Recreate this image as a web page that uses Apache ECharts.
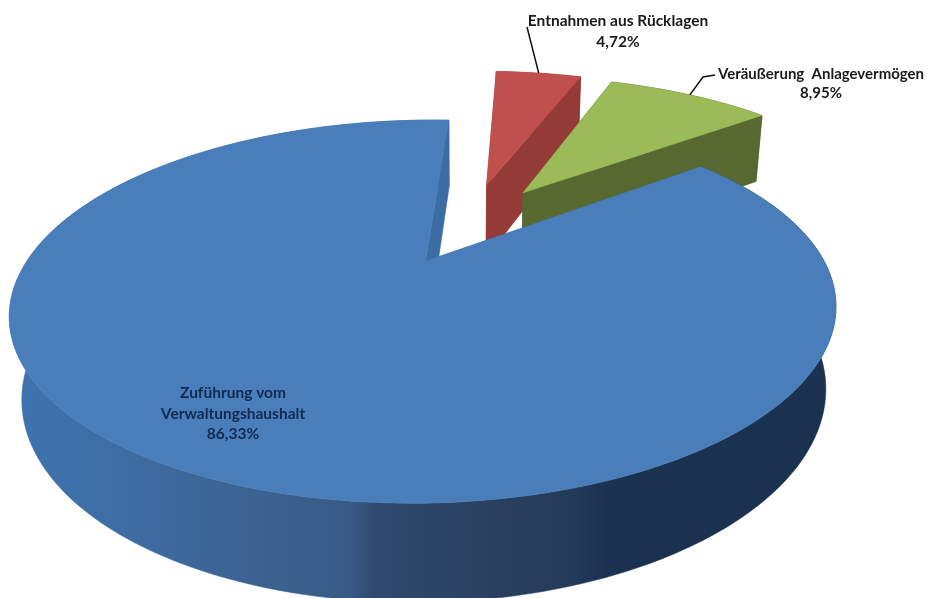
<!DOCTYPE html>
<html><head><meta charset="utf-8">
<style>html,body{margin:0;padding:0;background:#fff}#c{width:930px;height:598px}</style>
<script src="https://cdn.jsdelivr.net/npm/echarts@6/dist/echarts.min.js"></script>
</head><body><div id="c"></div>
<script>
const categories = ["Zuführung vom\nVerwaltungshaushalt", "Entnahmen aus Rücklagen", "Veräußerung  Anlagevermögen"];
const values = [86.33, 4.72, 8.95];
const startAngle = 52;

// perspective view of the tilted pie
const view = {cx:464, cy:229.5, k:380, m:162, p:0.251, r:0.025, h:79};
const explode = [0.21, 0.30, 0.291];
const explodeTurn = [0, 1, -1.4];
const topColors = ['#4a7ebb', '#c0504d', '#9bbb59'];
const cutColors = ['#3c6ca4', '#943b38', '#576830'];
const wallColors = [
  {type:'linear',x:10,y:0,x2:838,y2:0,global:true,colorStops:[
    {offset:0,color:'#3f73ae'},{offset:0.12,color:'#3d6ea6'},{offset:0.25,color:'#3d6596'},{offset:0.41,color:'#385b85'},
    {offset:0.44,color:'#2f4a6d'},{offset:0.55,color:'#2b4263'},{offset:0.68,color:'#233a5a'},{offset:0.72,color:'#1a3250'},{offset:1,color:'#1a3250'}]},
  '#943b38', '#576830'];
const drawOrder = [30, 10, 20];
const labelStyle = [
  {x:233, y:393, lh:20.5, fill:'#0f2a52', size:15.5},
  {x:618, y:21, lh:21, fill:'#1a1a1a', size:15.5},
  {x:821, y:74, lh:19.5, fill:'#1a1a1a', size:15}
];
const leaderKnots = [null, [[527,27]], [[715,75],[703,77]]];

function proj(X, Y, z) {
  const d = 1 + view.p * Y + view.r * z;
  return [view.cx + view.k * X / d, view.cy - (view.m * Y - view.h * z) / d];
}
const total = values.reduce((a, b) => a + b, 0);
function sliceAngles(i) {
  let a = startAngle;
  for (let j = 0; j < i; j++) a += values[j] / total * 360;
  return [a, a + values[i] / total * 360];
}
function renderItem(params, api) {
  const i = params.dataIndex;
  const [a0, a1] = sliceAngles(i);
  const rad = d => d * Math.PI / 180;
  const mid = rad((a0 + a1) / 2 + explodeTurn[i]);
  const ox = explode[i] * Math.sin(mid), oy = explode[i] * Math.cos(mid);
  const rim = (deg, z) => proj(ox + Math.sin(rad(deg)), oy + Math.cos(rad(deg)), z);
  const n = Math.max(2, Math.ceil((a1 - a0) / 1.5));
  const top = [], bot = [];
  for (let s = 0; s <= n; s++) {
    const a = a0 + (a1 - a0) * s / n;
    top.push(rim(a, 0)); bot.push(rim(a, 1));
  }
  const apexT = proj(ox, oy, 0), apexB = proj(ox, oy, 1);
  const base = drawOrder[i];
  const poly = (points, fill, z2) => ({type:'polygon', z2, shape:{points},
    style:{fill, stroke:fill, lineWidth:0.5}, silent:true});
  const children = [
    poly(top.concat(bot.slice().reverse()), wallColors[i], base),
    poly([apexT, top[0], bot[0], apexB], cutColors[i], base + 1),
    poly([apexT, top[n], bot[n], apexB], cutColors[i], base + 1),
    poly([apexT].concat(top), topColors[i], base + 2)
  ];
  const ls = labelStyle[i];
  const lines = categories[i].split('\n').concat([values[i].toFixed(2).replace('.', ',') + '%']);
  lines.forEach((t, li) => children.push({type:'text', z2:100, silent:true, style:{
    text:t, x:ls.x, y:ls.y + li * ls.lh, align:'center', verticalAlign:'middle',
    fill:ls.fill, font:'bold ' + ls.size + 'px Lato, "Noto Sans", sans-serif'}}));
  if (leaderKnots[i]) {
    const anchor = rim((a0 + a1) / 2, 0);
    children.push({type:'polyline', z2:101, silent:true,
      shape:{points:leaderKnots[i].concat([anchor])},
      style:{fill:'none', stroke:'#111', lineWidth:1.5}});
  }
  return {type:'group', children};
}
const chart = echarts.init(document.getElementById('c'), null, {renderer:'canvas'});
chart.setOption({
  animation:false,
  series:[{type:'custom', coordinateSystem:'none', renderItem,
    data: values.map((v, i) => ({name:categories[i], value:[i, v]}))}]
});
</script></body></html>
